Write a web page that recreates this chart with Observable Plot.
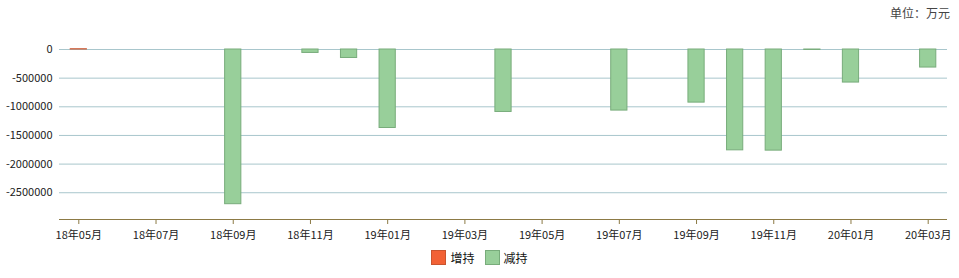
<!DOCTYPE html>
<html><head><meta charset="utf-8">
<script src="https://cdn.jsdelivr.net/npm/d3@7"></script>
<script src="https://cdn.jsdelivr.net/npm/@observablehq/plot@0.6"></script>
<style>
body{margin:0;background:#fff;font-family:"Noto Sans CJK SC",sans-serif}
#wrap{position:relative;width:959px;height:278px;overflow:hidden}
#unit{position:absolute;right:9px;top:4px;font-size:12px;color:#444;letter-spacing:0px}
#legend{position:absolute;top:249px;left:0;width:959px;display:flex;justify-content:center;align-items:center;font-size:12px;color:#111}
.sw{width:15px;height:15px;box-sizing:border-box;margin-right:4px}
.item{display:flex;align-items:center;margin:0 5px}
#chart{position:absolute;left:0;top:0}
</style></head>
<body>
<div id="wrap">
<div id="chart"></div>
<div id="unit">单位：万元</div>
<div id="legend"></div>
</div>
<script>
const months = ["18年05月","18年06月","18年07月","18年08月","18年09月","18年10月","18年11月","18年12月",
"19年01月","19年02月","19年03月","19年04月","19年05月","19年06月","19年07月","19年08月",
"19年09月","19年10月","19年11月","19年12月","20年01月","20年02月","20年03月"];
const increase = [4000,0,0,0,0,0,0,0,0,0,0,0,0,0,0,0,0,0,0,0,0,0,0];
const decrease = [0,0,0,0,-2700000,0,-60000,-148000,-1370000,0,0,-1090000,0,0,-1066000,0,-927000,-1760000,-1765000,-8000,-577000,0,-315000];
const xTicks = ["18年05月","18年07月","18年09月","18年11月","19年01月","19年03月","19年05月","19年07月","19年09月","19年11月","20年01月","20年03月"];
const yTicks = [0,-500000,-1000000,-1500000,-2000000,-2500000];
const seriesNames = ["增持","减持"];

const RED = "#f26135", RED_S = "#c9542f";
const GREEN = "#98cf9a", GREEN_S = "#78ac7b";
const AXIS = "#8c7a45";
const yMin = -2967000;

const incRows = months.map((m,i)=>({month:m,value:increase[i]})).filter(d=>d.value!==0);
const decRows = months.map((m,i)=>({month:m,value:decrease[i]})).filter(d=>d.value!==0);

const chart = Plot.plot({
  width:959, height:245,
  marginLeft:59, marginRight:12, marginTop:49, marginBottom:26,
  x:{domain:months, paddingInner:0.58, paddingOuter:0.29, round:false, label:null},
  y:{domain:[yMin,0], label:null},
  style:{fontFamily:"'Noto Sans CJK SC', sans-serif", fontSize:"11px", color:"#222", background:"#fff"},
  marks:[
    Plot.gridY(yTicks,{stroke:"#a8c6cc", strokeOpacity:1}),
    Plot.barY(decRows,{x:"month", y1:0, y2:"value", fill:GREEN, stroke:GREEN_S, strokeWidth:1}),
    Plot.barY(incRows,{x:"month", y1:0, y2:"value", fill:RED, stroke:RED_S, strokeWidth:1}),
    Plot.ruleY([yMin],{stroke:AXIS}),
    Plot.axisY(yTicks,{tickSize:0, tickPadding:7, label:null, tickFormat:d=>String(d)}),
    Plot.axisX(xTicks,{tickSize:5, tickPadding:7, stroke:AXIS, label:null})
  ]
});
document.getElementById("chart").appendChild(chart);

const colors = [[RED,RED_S],[GREEN,GREEN_S]];
const legend = document.getElementById("legend");
seriesNames.forEach((n,i)=>{
  const it = document.createElement("div"); it.className="item";
  const sw = document.createElement("div"); sw.className="sw";
  sw.style.background = colors[i][0]; sw.style.border = "1px solid "+colors[i][1];
  const t = document.createElement("span"); t.textContent = n;
  it.appendChild(sw); it.appendChild(t); legend.appendChild(it);
});
</script>
</body></html>
